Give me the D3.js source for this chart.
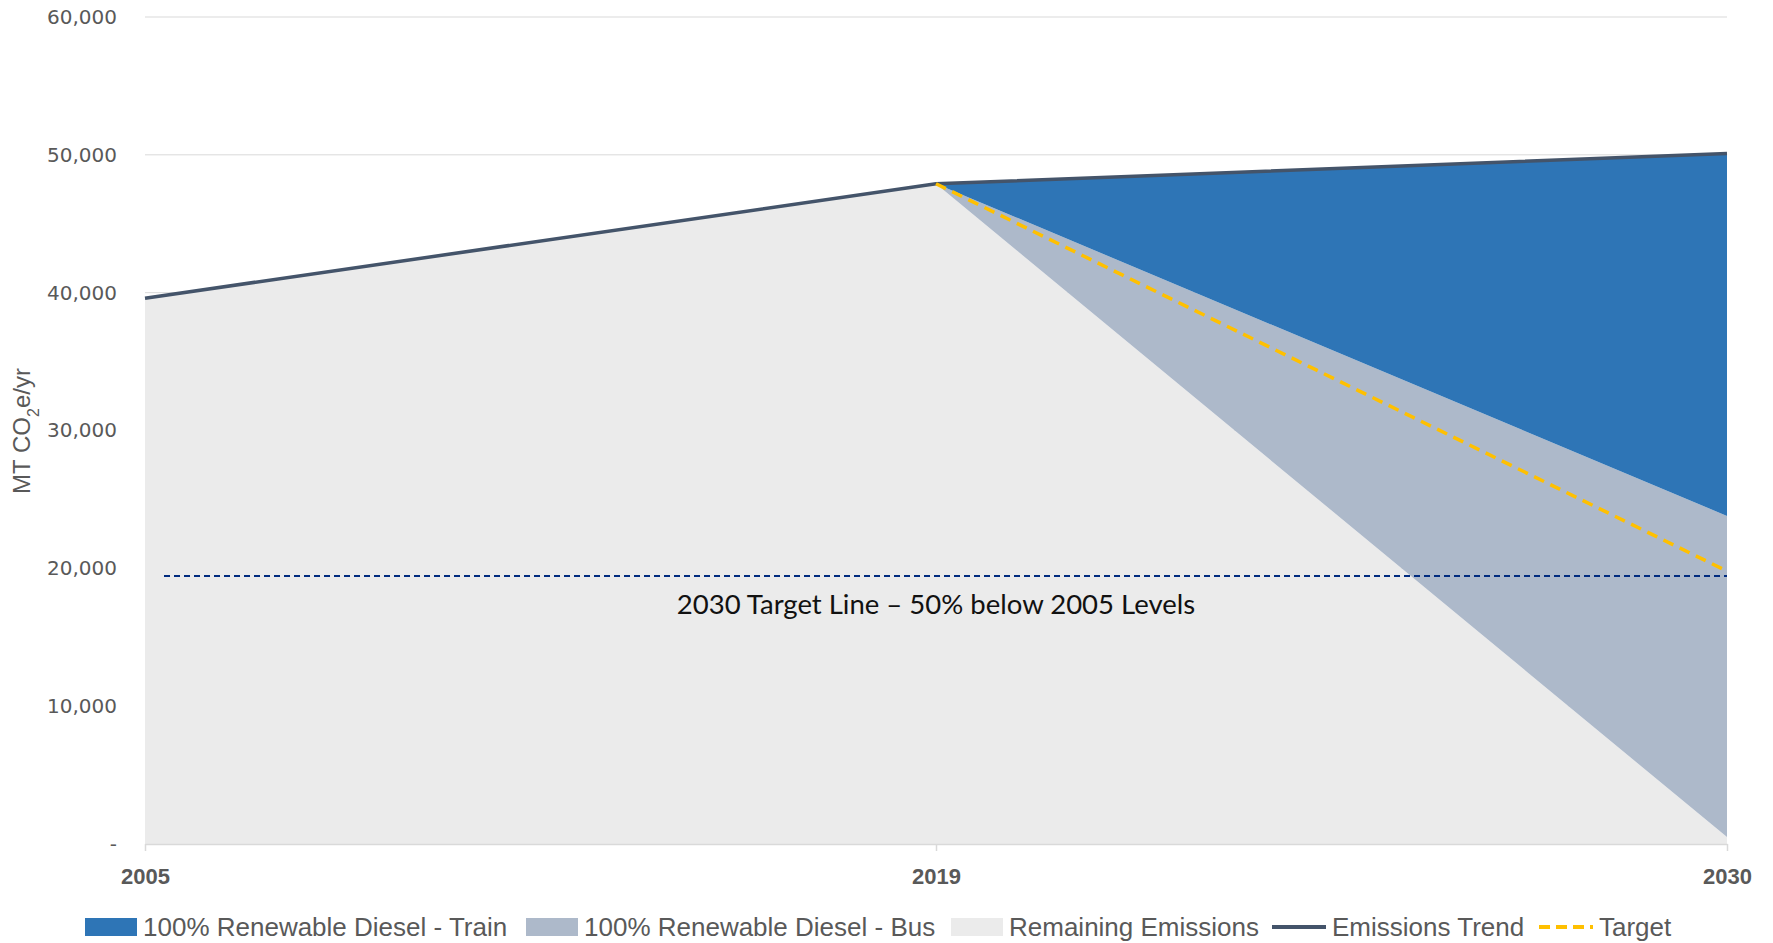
<!DOCTYPE html>
<html>
<head>
<meta charset="utf-8">
<script src="https://cdn.jsdelivr.net/npm/d3@7"></script>
<style>
  html, body { margin: 0; padding: 0; background: #ffffff; }
  svg { display: block; }
</style>
</head>
<body>
<svg id="chart" width="1773" height="943"></svg>
<script>
// Emissions pathway: stacked reductions on top of the remaining emissions
const years = ["2005", "2019", "2030"];
const remaining = [39600, 47900, 500];
const bus = [0, 0, 23300];
const train = [0, 0, 26300];
const trend = [39600, 47900, 50100];
const target = [null, 47900, 19800];
const targetLineValue = 19450;
const yTicks = [0, 10000, 20000, 30000, 40000, 50000, 60000];
const yTickLabels = ["-", "10,000", "20,000", "30,000", "40,000", "50,000", "60,000"];
const seriesNames = ["100% Renewable Diesel - Train", "100% Renewable Diesel - Bus", "Remaining Emissions", "Emissions Trend", "Target"];
const annotationText = "2030 Target Line \u2013 50% below 2005 Levels";

const colors = {
  train: "#2e75b6",
  bus: "#adb9ca",
  remaining: "#ebebeb",
  trend: "#44546a",
  target: "#ffc000",
  targetLine: "#002b7f",
  grid: "#d9d9d9",
  text: "#595959"
};

const svg = d3.select("#chart");
const x = d3.scalePoint().domain(years).range([145, 1727]);
const y = d3.scaleLinear().domain([0, 60000]).range([844, 17]);

// gridlines
svg.append("g")
  .selectAll("line")
  .data(yTicks.slice(1))
  .join("line")
  .attr("x1", x.range()[0]).attr("x2", x.range()[1])
  .attr("y1", d => y(d)).attr("y2", d => y(d))
  .attr("stroke", colors.grid).attr("stroke-width", 1);

// stacked areas
const rows = years.map((yr, i) => ({ year: yr, remaining: remaining[i], bus: bus[i], train: train[i] }));
const stack = d3.stack().keys(["remaining", "bus", "train"]);
const layers = stack(rows);
const area = d3.area()
  .x(d => x(d.data.year))
  .y0(d => y(d[0]))
  .y1(d => y(d[1]));
svg.append("g")
  .selectAll("path")
  .data(layers)
  .join("path")
  .attr("d", area)
  .attr("fill", d => colors[d.key]);

// y axis labels
const yAxis = d3.axisLeft(y)
  .tickValues(yTicks)
  .tickFormat((d, i) => yTickLabels[i])
  .tickSize(0)
  .tickPadding(0);
const yg = svg.append("g").attr("transform", "translate(117,0)").call(yAxis);
yg.select(".domain").remove();
yg.selectAll("text")
  .attr("fill", colors.text)
  .style("font-family", "'DejaVu Sans', sans-serif")
  .style("font-size", "20px");

// x axis
const xAxis = d3.axisBottom(x).tickSize(7).tickSizeOuter(0).tickPadding(17);
const xg = svg.append("g").attr("transform", `translate(0,${y(0)})`).call(xAxis);
xg.select(".domain").attr("stroke", colors.grid).attr("stroke-width", 1.5);
xg.selectAll(".tick line").attr("stroke", colors.grid).attr("stroke-width", 1.5);
xg.selectAll("text")
  .attr("fill", colors.text)
  .style("font-family", "'Liberation Sans Narrow', 'Liberation Sans', sans-serif")
  .style("font-weight", "bold")
  .style("font-size", "22px");

// 2030 target reference line
svg.append("line")
  .attr("x1", 164).attr("x2", x("2030"))
  .attr("y1", y(targetLineValue)).attr("y2", y(targetLineValue))
  .attr("stroke", colors.targetLine)
  .attr("stroke-width", 2)
  .attr("stroke-dasharray", "6,4");

svg.append("text")
  .attr("x", x("2019"))
  .attr("y", y(targetLineValue) + 38)
  .attr("text-anchor", "middle")
  .attr("fill", "#111111")
  .style("font-family", "Lato, sans-serif")
  .style("font-size", "27.5px")
  .text(annotationText);

// emissions trend line
const line = d3.line()
  .defined(d => d.v != null)
  .x(d => x(d.year))
  .y(d => y(d.v));
svg.append("path")
  .datum(years.map((yr, i) => ({ year: yr, v: trend[i] })))
  .attr("d", line)
  .attr("fill", "none")
  .attr("stroke", colors.trend)
  .attr("stroke-width", 3.5);

// target path
svg.append("path")
  .datum(years.map((yr, i) => ({ year: yr, v: target[i] })))
  .attr("d", line)
  .attr("fill", "none")
  .attr("stroke", colors.target)
  .attr("stroke-width", 3.5)
  .attr("stroke-dasharray", "11,7");

// y axis title
const yTitle = svg.append("text")
  .attr("transform", "translate(30,431) rotate(-90)")
  .attr("text-anchor", "middle")
  .attr("fill", colors.text)
  .style("font-family", "'Liberation Sans Narrow', 'Liberation Sans', sans-serif")
  .style("font-size", "24px");
yTitle.append("tspan").text("MT CO");
yTitle.append("tspan").attr("baseline-shift", "sub").style("font-size", "16px").text("2");
yTitle.append("tspan").text("e/yr");

// legend
const legendY = 927;
const legendItems = [
  { name: seriesNames[0], type: "box", color: colors.train, x: 85 },
  { name: seriesNames[1], type: "box", color: colors.bus, x: 526 },
  { name: seriesNames[2], type: "box", color: colors.remaining, x: 951 },
  { name: seriesNames[3], type: "line", color: colors.trend, x: 1272 },
  { name: seriesNames[4], type: "dash", color: colors.target, x: 1539 }
];
const lg = svg.append("g")
  .selectAll("g")
  .data(legendItems)
  .join("g")
  .attr("transform", d => `translate(${d.x},${legendY})`);
lg.filter(d => d.type === "box").append("rect")
  .attr("x", 0).attr("y", -9).attr("width", 52).attr("height", 18)
  .attr("fill", d => d.color);
lg.filter(d => d.type !== "box").append("line")
  .attr("x1", 0).attr("x2", 54).attr("y1", 0).attr("y2", 0)
  .attr("stroke", d => d.color)
  .attr("stroke-width", 4)
  .attr("stroke-dasharray", d => d.type === "dash" ? "11,6" : null);
lg.append("text")
  .attr("x", d => d.type === "box" ? 58 : 60)
  .attr("y", 9)
  .attr("fill", colors.text)
  .style("font-family", "'Liberation Sans Narrow', 'Liberation Sans', sans-serif")
  .style("font-size", "26px")
  .text(d => d.name);
</script>
</body>
</html>
